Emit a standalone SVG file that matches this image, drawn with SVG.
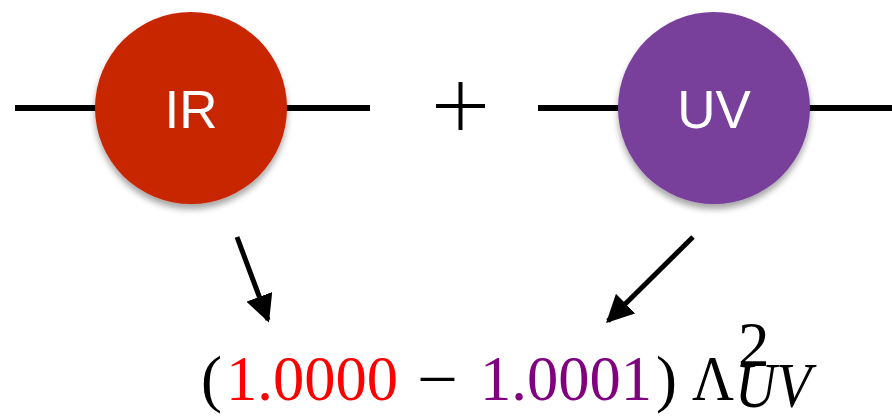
<svg xmlns="http://www.w3.org/2000/svg" width="892" height="417" viewBox="0 0 892 417">
<style>
.wire{stroke:#000;stroke-width:6;fill:none}
.lbl{font-family:"Liberation Sans",Arial,sans-serif;font-weight:300;font-size:53px;fill:#fff;text-anchor:middle}
.arr{stroke:#000;stroke-width:5;fill:none}
.math{font-family:"Liberation Serif","DejaVu Serif",serif;font-size:63px}
.k{fill:#000}
.r{fill:#FF0000}
.p{fill:#800080}
</style>
<defs>
<filter id="sh" x="-20%" y="-20%" width="140%" height="150%">
<feDropShadow dx="0" dy="5" stdDeviation="3" flood-color="#000" flood-opacity="0.35"/>
</filter>
<marker id="ah" viewBox="0 0 10 10" refX="9" refY="5" markerWidth="5.5" markerHeight="5.5" orient="auto" markerUnits="strokeWidth">
<path d="M0,0 L10,5 L0,10 z" fill="#000"/>
</marker>
</defs>
<g id="connectors">
<line class="wire" x1="15" y1="108" x2="100" y2="108"/>
<line class="wire" x1="282" y1="108" x2="370" y2="108"/>
<line class="wire" x1="538" y1="108" x2="624" y2="108"/>
<line class="wire" x1="804" y1="108" x2="892" y2="108"/>
<line class="arr" x1="237" y1="237" x2="268" y2="320" marker-end="url(#ah)"/>
<line class="arr" x1="693" y1="237" x2="608" y2="321" marker-end="url(#ah)"/>
</g>
<g id="plus">
<line x1="436" y1="106" x2="485" y2="106" stroke="#000" stroke-width="4"/>
<line x1="460.5" y1="82" x2="460.5" y2="130" stroke="#000" stroke-width="4"/>
</g>
<g id="IR">
<circle cx="191" cy="108" r="96" fill="#C82506" filter="url(#sh)"/>
<text class="lbl" x="191" y="128">IR</text>
</g>
<g id="UV">
<circle cx="714" cy="108" r="96" fill="#783F9A" filter="url(#sh)"/>
<text class="lbl" x="714" y="128">UV</text>
</g>
<g id="formula">
<text class="math k" x="201" y="400">(</text>
<text class="math r" x="226" y="400" textLength="172" lengthAdjust="spacingAndGlyphs">1.0000</text>
<text class="math k" x="417" y="400" textLength="41" lengthAdjust="spacingAndGlyphs">−</text>
<text class="math p" x="480" y="400" textLength="172" lengthAdjust="spacingAndGlyphs">1.0001</text>
<text class="math k" x="656" y="400">)</text>
<text class="math k" x="692" y="400" textLength="42" lengthAdjust="spacingAndGlyphs">Λ</text>
<text class="math k" x="738" y="366" font-size="37">2</text>
<text class="math k" x="735" y="407" font-size="37" font-style="italic" textLength="76" lengthAdjust="spacingAndGlyphs">UV</text>
</g>
</svg>
